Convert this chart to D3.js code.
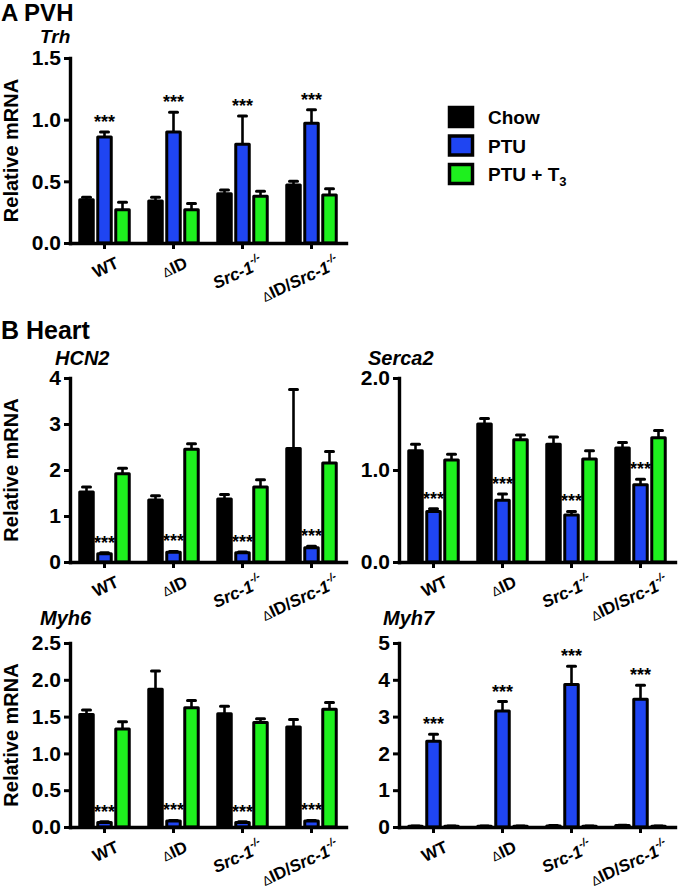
<!DOCTYPE html>
<html>
<head>
<meta charset="utf-8">
<script src="https://cdn.jsdelivr.net/npm/d3@7"></script>
<style>
  html, body { margin: 0; padding: 0; background: #fff; }
  svg { display: block; font-family: "Liberation Sans", Arial, sans-serif; }
</style>
</head>
<body>
<svg id="chart" width="680" height="890"></svg>
<script>
// ---------------- DATA ----------------
const groups = ["WT", "ΔID", "Src-1-/-", "ΔID/Src-1-/-"];
const seriesNames = ["Chow", "PTU", "PTU + T3"];
const seriesColors = ["#000000", "#1f45f2", "#1ef01e"];

// means [group][Chow, PTU, PTU+T3]
const trhMean   = [[0.35, 0.86, 0.27], [0.34, 0.90, 0.27], [0.40, 0.80, 0.38], [0.47, 0.97, 0.39]];
const trhSem    = [[0.02, 0.04, 0.06], [0.03, 0.16, 0.05], [0.03, 0.23, 0.04], [0.03, 0.11, 0.05]];
const hcn2Mean  = [[1.52, 0.18, 1.92], [1.35, 0.21, 2.45], [1.37, 0.20, 1.63], [2.47, 0.31, 2.15]];
const hcn2Sem   = [[0.11, 0.02, 0.12], [0.09, 0.02, 0.12], [0.10, 0.02, 0.16], [1.28, 0.03, 0.25]];
const serca2Mean= [[1.21, 0.55, 1.11], [1.50, 0.67, 1.33], [1.28, 0.51, 1.12], [1.24, 0.84, 1.35]];
const serca2Sem = [[0.07, 0.03, 0.06], [0.06, 0.07, 0.05], [0.08, 0.04, 0.09], [0.06, 0.06, 0.08]];
const myh6Mean  = [[1.53, 0.06, 1.33], [1.87, 0.08, 1.62], [1.54, 0.06, 1.42], [1.36, 0.08, 1.60]];
const myh6Sem   = [[0.06, 0.01, 0.10], [0.25, 0.01, 0.10], [0.10, 0.01, 0.05], [0.10, 0.01, 0.09]];
const myh7Mean  = [[0.02, 2.33, 0.02], [0.02, 3.15, 0.02], [0.03, 3.87, 0.02], [0.04, 3.47, 0.02]];
const myh7Sem   = [[0.01, 0.19, 0.01], [0.01, 0.26, 0.01], [0.01, 0.50, 0.01], [0.01, 0.38, 0.01]];

const trhTicks    = [0, 0.5, 1.0, 1.5];
const hcn2Ticks   = [0, 1, 2, 3, 4];
const serca2Ticks = [0, 1.0, 2.0];
const myh6Ticks   = [0, 0.5, 1.0, 1.5, 2.0, 2.5];
const myh7Ticks   = [0, 1, 2, 3, 4, 5];

// significance markers: series index that carries "***"
const starSeries = 1;

// ---------------- LAYOUT ----------------
const svg = d3.select("#chart");
const FONT = '"Liberation Sans", Arial, sans-serif';

const panels = [
  { title: "Trh",    mean: trhMean,    sem: trhSem,    ticks: trhTicks,    fmt: ".1f", ax: 70,  top: 58,  bottom: 243, ylabel: true,  tx: 40,  ty: 43 },
  { title: "HCN2",   mean: hcn2Mean,   sem: hcn2Sem,   ticks: hcn2Ticks,   fmt: "d",   ax: 70,  top: 378, bottom: 562, ylabel: true,  tx: 55,  ty: 365 },
  { title: "Serca2", mean: serca2Mean, sem: serca2Sem, ticks: serca2Ticks, fmt: ".1f", ax: 399, top: 378, bottom: 562, ylabel: false, tx: 368, ty: 365 },
  { title: "Myh6",   mean: myh6Mean,   sem: myh6Sem,   ticks: myh6Ticks,   fmt: ".1f", ax: 70,  top: 643, bottom: 827, ylabel: true,  tx: 40,  ty: 625 },
  { title: "Myh7",   mean: myh7Mean,   sem: myh7Sem,   ticks: myh7Ticks,   fmt: "d",   ax: 399, top: 643, bottom: 827, ylabel: false, tx: 383, ty: 625 }
];

const AXIS_W = 276;
const BAR_W = 13.5;
const BAR_OFF = [-18, 0, 18];

// Section headings
svg.append("text").attr("x", 1).attr("y", 21).attr("font-size", 24).attr("font-weight", "bold")
  .attr("font-family", FONT).text("A PVH");
svg.append("text").attr("x", 1).attr("y", 339).attr("font-size", 25).attr("font-weight", "bold")
  .attr("font-family", FONT).text("B Heart");

function xLabel(sel, name) {
  let rest = name;
  let sup = null;
  if (rest.endsWith("-/-")) { sup = "-/-"; rest = rest.slice(0, -3); }
  const srcIdx = rest.indexOf("Src");
  const plain = srcIdx >= 0 ? rest.slice(0, srcIdx) : rest;
  const ital = srcIdx >= 0 ? rest.slice(srcIdx) : "";
  for (const ch of plain) {
    if (ch === "Δ") sel.append("tspan").attr("font-weight", "normal").attr("font-size", 13).text(ch);
    else sel.append("tspan").text(ch);
  }
  if (ital) sel.append("tspan").attr("font-style", "italic").text(ital);
  if (sup) sel.append("tspan").attr("font-style", "italic").attr("font-size", 11).attr("dy", -8).text(sup);
}

panels.forEach(p => {
  const g = svg.append("g");
  const x = d3.scaleBand().domain(groups).range([p.ax, p.ax + AXIS_W]).padding(0);
  const y = d3.scaleLinear().domain([p.ticks[0], p.ticks[p.ticks.length - 1]]).range([p.bottom, p.top]);
  const cx = gname => x(gname) + x.bandwidth() / 2;

  // title
  svg.append("text").attr("x", p.tx).attr("y", p.ty).attr("font-size", p.title === "Trh" ? 19 : 20).attr("font-weight", "bold")
    .attr("font-style", "italic").attr("font-family", FONT).text(p.title);

  // bars + error bars
  groups.forEach((gn, gi) => {
    seriesNames.forEach((sn, si) => {
      const m = p.mean[gi][si], s = p.sem[gi][si];
      const bx = cx(gn) + BAR_OFF[si];
      g.append("line").attr("x1", bx).attr("x2", bx).attr("y1", y(m)).attr("y2", y(m + s))
        .attr("stroke", "#000").attr("stroke-width", 2.6);
      g.append("line").attr("x1", bx - 4).attr("x2", bx + 4).attr("y1", y(m + s)).attr("y2", y(m + s))
        .attr("stroke", "#000").attr("stroke-width", 3).attr("stroke-linecap", "round");
      g.append("rect").attr("x", bx - BAR_W / 2).attr("width", BAR_W)
        .attr("y", y(m)).attr("height", Math.max(0, y(0) - y(m)))
        .attr("fill", seriesColors[si]).attr("stroke", "#000").attr("stroke-width", 3)
        .attr("stroke-linejoin", "round");
      if (si === starSeries) {
        g.append("text").attr("x", bx).attr("y", y(m + s) - 4)
          .attr("text-anchor", "middle").attr("font-size", 18).attr("font-weight", "bold")
          .attr("font-family", FONT).text("***");
      }
    });
  });

  // y axis
  const yAxis = d3.axisLeft(y).tickValues(p.ticks).tickFormat(d3.format(p.fmt)).tickSize(6).tickSizeOuter(0).tickPadding(3);
  const ya = svg.append("g").attr("transform", `translate(${p.ax},0)`).call(yAxis);
  ya.select(".domain").attr("stroke-width", 3.4).attr("stroke-linecap", "square");
  ya.selectAll(".tick line").attr("stroke-width", 3);
  ya.selectAll(".tick text").attr("font-size", 21).attr("font-weight", "bold").attr("font-family", FONT).attr("fill", "#000");

  // x axis
  const xAxis = d3.axisBottom(x).tickSize(6).tickSizeOuter(0).tickFormat(() => "");
  const xa = svg.append("g").attr("transform", `translate(0,${p.bottom})`).call(xAxis);
  xa.select(".domain").attr("stroke-width", 3.4).attr("stroke-linecap", "square");
  xa.selectAll(".tick line").attr("stroke-width", 3);

  groups.forEach(gn => {
    const t = svg.append("text")
      .attr("text-anchor", "end").attr("font-size", 17).attr("font-weight", "bold").attr("font-family", FONT);
    xLabel(t, gn);
    const len = t.node().getComputedTextLength();
    const tx = cx(gn) + 9 + 0.24 * len, ty = p.bottom + 24;
    t.attr("transform", `translate(${tx},${ty}) rotate(-25)`);
  });

  if (p.ylabel) {
    svg.append("text").attr("transform", `translate(${18},${(p.top + p.bottom) / 2}) rotate(-90)`)
      .attr("text-anchor", "middle").attr("font-size", 20).attr("font-weight", "bold")
      .attr("font-family", FONT).text("Relative mRNA");
  }
});

// legend
const leg = svg.append("g");
seriesNames.forEach((sn, i) => {
  const ly = 106 + i * 28.5;
  leg.append("rect").attr("x", 449.5).attr("y", ly + 1.5).attr("width", 23).attr("height", 19)
    .attr("fill", seriesColors[i]).attr("stroke", "#000").attr("stroke-width", 3.5);
  const t = leg.append("text").attr("x", 488).attr("y", ly + 18).attr("font-size", 19)
    .attr("font-weight", "bold").attr("font-family", FONT);
  if (sn.endsWith("T3")) {
    t.append("tspan").text(sn.slice(0, -1));
    t.append("tspan").attr("font-size", 13).attr("dy", 5).text("3");
  } else {
    t.text(sn);
  }
});
</script>
</body>
</html>
